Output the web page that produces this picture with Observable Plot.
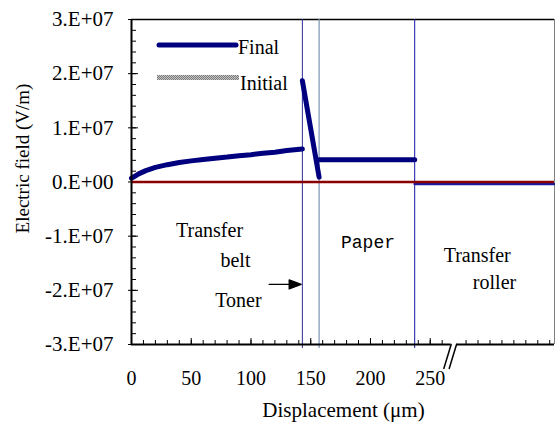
<!DOCTYPE html>
<html><head><meta charset="utf-8">
<script src="https://cdn.jsdelivr.net/npm/d3@7"></script>
<script src="https://cdn.jsdelivr.net/npm/@observablehq/plot@0.6"></script>
<style>body{margin:0;background:#fff}</style>
</head><body><div id="chart"></div>
<script>
// ---- data (displacement in µm, electric field in V/m) ----
const beltX = [0, 3, 6, 12, 20, 30, 40, 50, 60, 70, 80, 90, 100, 110, 120, 130, 143];
const beltE = [0.07e7, 0.11e7, 0.15e7, 0.21e7, 0.27e7, 0.32e7, 0.36e7, 0.39e7, 0.415e7, 0.44e7, 0.46e7, 0.485e7, 0.505e7, 0.53e7, 0.55e7, 0.58e7, 0.61e7];
const tonerX = [143, 157];
const tonerE = [1.87e7, 0.09e7];
const paperX = [157, 237];
const paperE = [0.41e7, 0.41e7];
const rollerX = [237, 354];
const rollerE = [-0.035e7, -0.035e7];
const initialX = [0, 354];
const initialE = [0, 0];
const boundaries = [143, 157, 237];          // belt|toner, toner|paper, paper|roller
const xTicks = [0, 50, 100, 150, 200, 250];
const xTickLabels = ["0", "50", "100", "150", "200", "250"];
const xMinor = [0,10,20,30,40,50,60,70,80,90,100,110,120,130,140,150,160,170,180,190,200,210,220,230,240,250,260,280,290,300,310,320,330,340,350];
const yTicks = [3e7, 2e7, 1e7, 0, -1e7, -2e7, -3e7];
const yTickLabels = ["3.E+07", "2.E+07", "1.E+07", "0.E+00", "-1.E+07", "-2.E+07", "-3.E+07"];
const yMinor = d3.range(-15, 16).map(k => k * 2e6);
const seriesNames = ["Final", "Initial"];
const axisBreak = [267.5, 272];

const rows = (seg, xs, es) => xs.map((x, i) => ({seg, x, e: es[i]}));
const finalRows = [...rows("belt", beltX, beltE), ...rows("toner", tonerX, tonerE), ...rows("paper", paperX, paperE)];
const rollerRows = rows("roller", rollerX, rollerE);
const initialRows = rows("initial", initialX, initialE);

const FONT = "'Liberation Serif', 'Times New Roman', serif";
const MONO = "'Liberation Mono', 'Courier New', monospace";
const plotW = 555 - 131 - 1, plotH = 431 - 19 - 87;
const breakShape = {draw(ctx, l) { ctx.moveTo(0, l / 2); ctx.lineTo(0, -l / 2); }};
const arrowShape = {draw(ctx, l) {
  ctx.moveTo(0, 0); ctx.lineTo(0, -l + 10);
  ctx.moveTo(0, -l); ctx.lineTo(-4.5, -l + 12); ctx.lineTo(4.5, -l + 12); ctx.closePath();
}};

const chart = Plot.plot({
  width: 555, height: 431,
  marginLeft: 131, marginRight: 1, marginTop: 19, marginBottom: 87,
  style: {fontSize: "20px", background: "white", color: "black"},
  x: {domain: [0, 354], axis: null},
  y: {domain: [-3e7, 3e7], axis: null},
  marks: [
    Plot.ruleY([3e7], {stroke: "black", strokeWidth: 1.5}),
    Plot.ruleX([354], {stroke: "#808080", strokeWidth: 1}),
    Plot.ruleX([boundaries[0]], {stroke: "#2b2b9c", strokeWidth: 1, insetBottom: -4}),
    Plot.ruleX([boundaries[1]], {stroke: "#7b93b3", strokeWidth: 1.2, insetBottom: -4}),
    Plot.ruleX([boundaries[2]], {stroke: "#1515a5", strokeWidth: 1, insetBottom: -4}),
    // ticks (inside)
    Plot.tickY(yMinor, {y: d => d, stroke: "black", strokeWidth: 1, insetRight: plotW - 5}),
    Plot.tickY(yTicks, {y: d => d, stroke: "black", strokeWidth: 1, insetLeft: -3, insetRight: plotW - 7}),
    Plot.tickX(xMinor, {x: d => d, stroke: "black", strokeWidth: 1, insetTop: plotH - 4}),
    Plot.tickX(xTicks, {x: d => d, stroke: "black", strokeWidth: 1, insetTop: plotH - 6}),
    // series
    Plot.line(initialRows, {x: "x", y: "e", stroke: "#a0a0a0", strokeWidth: 2}),
    Plot.line(finalRows, {x: "x", y: "e", z: "seg", stroke: "#00007f", strokeWidth: 5, strokeLinecap: "round", strokeLinejoin: "round"}),
    Plot.line(rollerRows, {x: "x", y: "e", stroke: "#1a1aa0", strokeWidth: 2.5}),
    Plot.ruleY([0], {stroke: "#8b0000", strokeWidth: 2.5}),
    // axis lines
    Plot.ruleX([0], {stroke: "black", strokeWidth: 2}),
    Plot.ruleY([{a: 0, b: axisBreak[0]}, {a: axisBreak[1], b: 354}], {y: -3e7, x1: "a", x2: "b", stroke: "black", strokeWidth: 2}),
    Plot.vector(axisBreak, {x: d => d, y: -3e7, length: 25, rotate: 17, shape: breakShape, stroke: "black", strokeWidth: 1.5}),
    // tick labels
    Plot.axisY({ticks: yTicks, tickSize: 0, tickPadding: 18, tickFormat: d => yTickLabels[yTicks.indexOf(d)], fontSize: 21, label: null}),
    Plot.axisX({ticks: xTicks, tickSize: 0, tickPadding: 26, tickFormat: d => xTickLabels[xTicks.indexOf(d)], fontSize: 20, label: null}),
    // region annotations
    Plot.text(["Transfer"], {x: 65.3, y: -0.888e7, text: d => d, fontSize: 20}),
    Plot.text(["belt"], {x: 87, y: -1.442e7, text: d => d, fontSize: 20}),
    Plot.text(["Toner"], {x: 89.5, y: -2.193e7, text: d => d, fontSize: 20}),
    Plot.text(["Paper"], {x: 197.9, y: -1.12e7, text: d => d, fontSize: 18}),
    Plot.text(["Transfer"], {x: 289.3, y: -1.35e7, text: d => d, fontSize: 20}),
    Plot.text(["roller"], {x: 303.8, y: -1.866e7, text: d => d, fontSize: 20}),
    Plot.vector([boundaries[0]], {x: d => d - 1, y: -1.89e7, length: 32, rotate: 90, anchor: "end", shape: arrowShape, stroke: "black", fill: "black", strokeWidth: 1.3})
  ]
});
document.getElementById("chart").appendChild(chart);

// legend and axis titles
const svg = d3.select(chart);
const defs = svg.append("defs");
const pat = defs.append("pattern").attr("id", "stipple").attr("patternUnits", "userSpaceOnUse").attr("width", 2).attr("height", 2);
pat.append("rect").attr("width", 2).attr("height", 2).attr("fill", "#c4c4c4");
pat.append("rect").attr("width", 1).attr("height", 1).attr("fill", "#7a7a7a");
pat.append("rect").attr("x", 1).attr("y", 1).attr("width", 1).attr("height", 1).attr("fill", "#7a7a7a");
const lg = svg.append("g").attr("font-size", 20).attr("text-anchor", "start");
lg.append("line").attr("x1", 159).attr("x2", 236).attr("y1", 45).attr("y2", 45)
  .attr("stroke", "#00007f").attr("stroke-width", 5).attr("stroke-linecap", "round");
lg.append("text").attr("x", 238).attr("y", 54).text(seriesNames[0]);
lg.append("rect").attr("x", 157).attr("y", 75).attr("width", 82).attr("height", 5).attr("fill", "url(#stipple)");
lg.append("text").attr("x", 240).attr("y", 90).text(seriesNames[1]);
svg.append("text").attr("font-size", 19).attr("text-anchor", "middle")
  .attr("transform", "translate(22,158.5) rotate(-90)").attr("dy", "0.35em").text("Electric field (V/m)");
svg.append("text").attr("font-size", 21).attr("text-anchor", "middle")
  .attr("x", 343.5).attr("y", 417).text("Displacement (\u03bcm)");

// force fonts with inline styles (wins over any stylesheet)
svg.attr("font-family", null).style("font-family", FONT);
svg.selectAll("g").attr("font-family", null);
svg.selectAll("text").each(function() {
  this.removeAttribute("font-family");
  this.style.setProperty("font-family", this.textContent === "Paper" ? MONO : FONT, "important");
});
</script></body></html>
